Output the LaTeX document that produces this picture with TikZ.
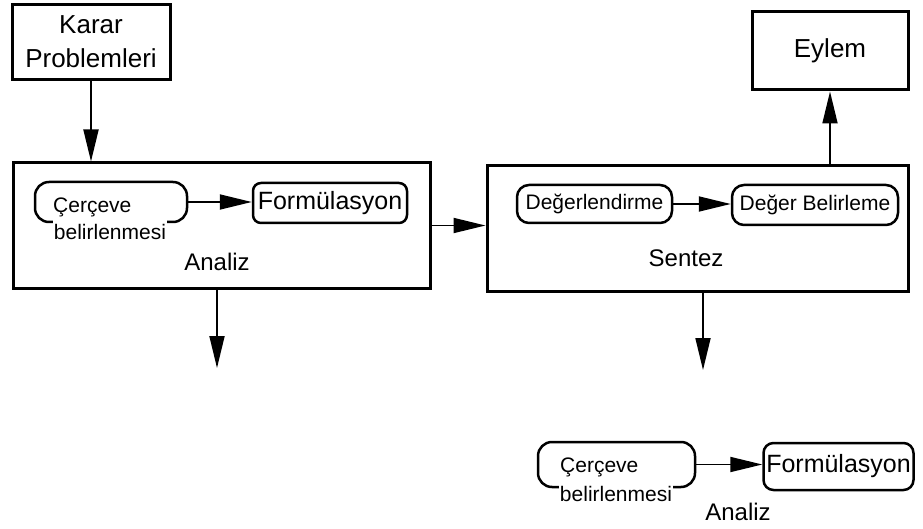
\documentclass[tikz,border=0pt]{standalone}
\usepackage{fontspec}
\setmainfont{Liberation Sans}
\usetikzlibrary{arrows.meta,positioning}

\begin{document}
\begin{tikzpicture}[x=1pt,y=-1pt,>={Triangle[length=32pt,width=15pt]},
  bigbox/.style={draw,rectangle,line width=3pt,inner sep=0pt},
  pill/.style={draw,line width=2.5pt,rounded corners=14pt,minimum height=40pt,inner sep=2pt},
  arr/.style={->,line width=1.8pt},
  bigtxt/.style={font=\fontsize{26}{34}\selectfont},
  midtxt/.style={font=\fontsize{24}{26}\selectfont},
  smalltxt/.style={font=\fontsize{21}{24}\selectfont}]
  \useasboundingbox (0,0) rectangle (923,529);
  \node[bigbox,bigtxt,minimum width=158pt,minimum height=75pt,align=center] (karar) at (91,42) {Karar\\Problemleri};
  \node[bigbox,minimum width=156pt,minimum height=78pt,bigtxt] (eylem) at (830,51) {Eylem};
  \node[bigbox,minimum width=417pt,minimum height=125pt] (analiz) at (221.5,225.5) {};
  \node[bigbox,minimum width=421pt,minimum height=125pt] (sentez) at (697.5,228.5) {};
  \node[midtxt] (analizlbl) at (217,262) {Analiz};
  \node[midtxt] (sentezlbl) at (686,258) {Sentez};
  \node[pill,minimum width=152pt] (cerc1) at (111,202) {};
  \node[smalltxt,anchor=west,inner sep=0pt] (cerc1a) at (53,207) {Çerçeve};
  \node[smalltxt,fill=white,inner xsep=1pt,inner ysep=6pt] (cerc1b) at (110,232) {belirlenmesi};
  \node[pill,rounded corners=8pt,minimum width=154pt,font=\fontsize{25}{28}\selectfont] (form1) at (330,203) {Formülasyon};
  \node[pill,rounded corners=12pt,minimum width=155pt,minimum height=38pt,smalltxt] (deger) at (594.5,204) {Değerlendirme};
  \node[pill,rounded corners=12pt,minimum width=166pt,minimum height=40pt,smalltxt] (belirle) at (815,205) {Değer Belirleme};
  \node[pill,minimum width=157pt,minimum height=45pt] (cerc2) at (616.5,464.5) {};
  \node[smalltxt,anchor=west,inner sep=0pt] (cerc2a) at (560,467) {Çerçeve};
  \node[smalltxt,fill=white,inner xsep=1pt,inner ysep=6pt] (cerc2b) at (616,494) {belirlenmesi};
  \node[pill,rounded corners=10pt,minimum width=150pt,minimum height=47pt,font=\fontsize{25}{28}\selectfont] (form2) at (838.5,466.5) {Formülasyon};
  \node[midtxt] (analiz2lbl) at (738,512) {Analiz};
  \coordinate (outa) at (217,368);
  \coordinate (outs) at (703,370);
  \path (karar.south)        edge[arr] (karar.south |- analiz.north)
        (analiz.east)        edge[arr] (analiz.east -| sentez.west)
        (sentez.north -| eylem.south) edge[arr] (eylem.south)
        (analiz.south -| outa) edge[arr] (outa)
        (sentez.south -| outs) edge[arr] (outs)
        (cerc1.east)         edge[arr] (cerc1.east -| form1.west)
        (deger.east)         edge[arr] (deger.east -| belirle.west)
        (cerc2.east)         edge[arr] (cerc2.east -| form2.west);
\end{tikzpicture}
\end{document}
